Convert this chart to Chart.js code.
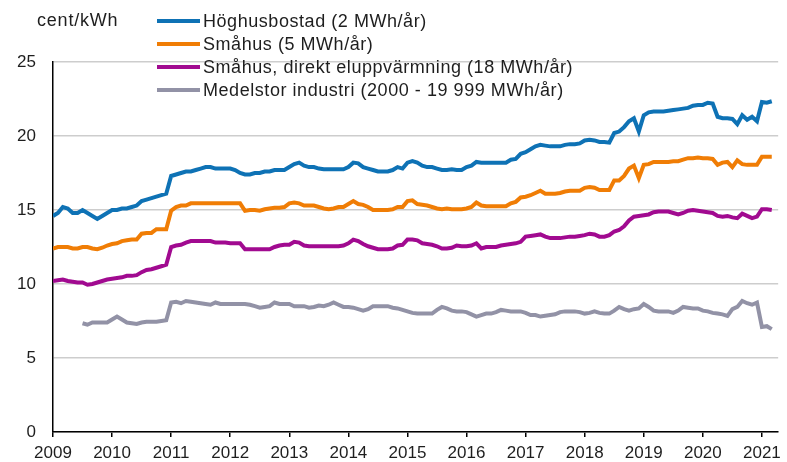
<!DOCTYPE html>
<html>
<head>
<meta charset="utf-8">
<script src="https://cdn.jsdelivr.net/npm/chart.js@4"></script>
<style>
  html, body { margin: 0; padding: 0; background: #fff; }
  #wrap { width: 787px; height: 462px; }
</style>
</head>
<body>
<div id="wrap"><canvas id="chart" width="787" height="462"></canvas></div>
<script>
// monthly prices, cent/kWh, Jan 2009 - Mar 2021
const firstYear = 2009;
const yearTicks = [2009, 2010, 2011, 2012, 2013, 2014, 2015, 2016, 2017, 2018, 2019, 2020, 2021];
const yTicks = [0, 5, 10, 15, 20, 25];

const seriesNames = [
  "Höghusbostad (2 MWh/år)",
  "Småhus (5 MWh/år)",
  "Småhus, direkt eluppvärmning (18 MWh/år)",
  "Medelstor industri (2000 - 19 999 MWh/år)"
];
const seriesColors = ["#0e72b5", "#f07d05", "#a10a90", "#9292a6"];

const hoghus = [
  14.6, 14.8, 15.2, 15.1, 14.8, 14.8, 15.0, 14.8, 14.6, 14.4, 14.6, 14.8,
  15.0, 15.0, 15.1, 15.1, 15.2, 15.3, 15.6, 15.7, 15.8, 15.9, 16.0, 16.1,
  17.3, 17.4, 17.5, 17.6, 17.6, 17.7, 17.8, 17.9, 17.9, 17.8, 17.8, 17.8,
  17.8, 17.7, 17.5, 17.4, 17.4, 17.5, 17.5, 17.6, 17.6, 17.7, 17.7, 17.7,
  17.9, 18.1, 18.2, 18.0, 17.9, 17.9, 17.8, 17.75, 17.75, 17.75, 17.75, 17.75,
  17.9, 18.2, 18.15, 17.9, 17.8, 17.7, 17.6, 17.6, 17.6, 17.7, 17.9, 17.8,
  18.2, 18.3, 18.2, 18.0, 17.9, 17.9, 17.8, 17.7, 17.7, 17.75, 17.7, 17.7,
  17.9, 18.0, 18.25, 18.2, 18.2, 18.2, 18.2, 18.2, 18.2, 18.4, 18.45, 18.8,
  18.9, 19.1, 19.3, 19.4, 19.35, 19.3, 19.3, 19.3, 19.4, 19.45, 19.45, 19.5,
  19.7, 19.75, 19.7, 19.6, 19.6, 19.55, 20.2, 20.3, 20.6, 21.0, 21.2, 20.3,
  21.4, 21.6, 21.65, 21.65, 21.65, 21.7, 21.75, 21.8, 21.85, 21.9, 22.05, 22.1,
  22.1, 22.25, 22.2, 21.3, 21.2, 21.2, 21.15, 20.8, 21.4, 21.1, 21.3, 21.0,
  22.3, 22.25, 22.35
];

const smahus = [
  12.4, 12.5, 12.5, 12.5, 12.4, 12.4, 12.5, 12.5, 12.4, 12.35, 12.45, 12.6,
  12.7, 12.75, 12.9, 12.95, 13.0, 13.0, 13.4, 13.45, 13.45, 13.7, 13.7, 13.7,
  14.95, 15.2, 15.3, 15.3, 15.45, 15.45, 15.45, 15.45, 15.45, 15.45, 15.45, 15.45,
  15.45, 15.45, 15.45, 14.95, 15.0, 15.0, 14.95, 15.05, 15.1, 15.15, 15.15, 15.2,
  15.45, 15.5, 15.45, 15.3, 15.3, 15.3, 15.2, 15.1, 15.05, 15.1, 15.2, 15.2,
  15.4, 15.6, 15.4, 15.35, 15.2, 15.0, 15.0, 15.0, 15.0, 15.05, 15.2, 15.2,
  15.6, 15.65, 15.4, 15.35, 15.3, 15.2, 15.1, 15.05, 15.1, 15.05, 15.05, 15.05,
  15.1, 15.2, 15.5, 15.3, 15.25, 15.25, 15.25, 15.25, 15.25, 15.45, 15.55, 15.85,
  15.9, 16.0, 16.15, 16.3, 16.1, 16.1, 16.1, 16.15, 16.25, 16.3, 16.3, 16.3,
  16.5, 16.55, 16.5, 16.35, 16.35, 16.35, 17.0, 17.0, 17.3, 17.8, 18.0, 17.15,
  18.05, 18.1, 18.25, 18.25, 18.25, 18.25, 18.3, 18.3, 18.4, 18.5, 18.5, 18.55,
  18.5, 18.5, 18.45, 18.05, 18.2, 18.25, 17.9, 18.35, 18.1, 18.05, 18.05, 18.05,
  18.6, 18.6, 18.6
];

const direktEl = [
  10.2, 10.25, 10.3, 10.2, 10.15, 10.1, 10.1, 9.95, 10.0, 10.1, 10.2, 10.3,
  10.35, 10.4, 10.45, 10.55, 10.55, 10.6, 10.8, 10.95, 11.0, 11.1, 11.2, 11.3,
  12.5, 12.6, 12.65, 12.8, 12.9, 12.9, 12.9, 12.9, 12.9, 12.8, 12.8, 12.8,
  12.75, 12.75, 12.75, 12.35, 12.35, 12.35, 12.35, 12.35, 12.35, 12.5, 12.6, 12.65,
  12.65, 12.85, 12.8, 12.6, 12.55, 12.55, 12.55, 12.55, 12.55, 12.55, 12.55, 12.6,
  12.75, 13.0, 12.9, 12.7, 12.55, 12.45, 12.35, 12.35, 12.35, 12.4, 12.6, 12.65,
  13.0, 13.0, 12.95, 12.75, 12.7, 12.65, 12.55, 12.4, 12.4, 12.45, 12.6, 12.55,
  12.55, 12.6, 12.75, 12.4, 12.5, 12.5, 12.5, 12.6, 12.65, 12.7, 12.75, 12.85,
  13.2, 13.25, 13.3, 13.35, 13.2, 13.1, 13.1, 13.1, 13.15, 13.2, 13.2, 13.25,
  13.3, 13.4, 13.35, 13.2, 13.2, 13.3, 13.55, 13.65, 13.9, 14.3, 14.55, 14.6,
  14.65, 14.7, 14.85, 14.9, 14.9, 14.9, 14.8, 14.7, 14.8, 14.95, 15.0, 14.95,
  14.9, 14.85, 14.8, 14.6, 14.55, 14.6, 14.5, 14.45, 14.75, 14.6, 14.45, 14.55,
  15.05, 15.05, 15.0
];

const industri = [
  null, null, null, null, null, null, 7.35, 7.25, 7.4, 7.4, 7.4, 7.4,
  7.6, 7.8, 7.6, 7.4, 7.35, 7.3, 7.4, 7.45, 7.45, 7.45, 7.5, 7.55,
  8.75, 8.8, 8.7, 8.85, 8.8, 8.75, 8.7, 8.65, 8.6, 8.75, 8.65, 8.65,
  8.65, 8.65, 8.65, 8.65, 8.6, 8.5, 8.4, 8.45, 8.5, 8.75, 8.65, 8.65,
  8.65, 8.5, 8.5, 8.5, 8.4, 8.45, 8.55, 8.5, 8.6, 8.75, 8.6, 8.45,
  8.45, 8.4, 8.3, 8.2, 8.3, 8.5, 8.5, 8.5, 8.5, 8.4, 8.35, 8.25,
  8.15, 8.05, 8.0, 8.0, 8.0, 8.0, 8.25, 8.45, 8.35, 8.2, 8.15, 8.15,
  8.1, 7.95, 7.8, 7.9, 8.0, 8.0, 8.1, 8.25, 8.2, 8.15, 8.15, 8.15,
  8.05, 7.9, 7.9, 7.8, 7.85, 7.9, 7.95, 8.1, 8.15, 8.15, 8.15, 8.1,
  8.0, 8.05, 8.15, 8.05, 8.0, 8.0, 8.2, 8.45, 8.3, 8.2, 8.3, 8.35,
  8.65, 8.45, 8.2, 8.15, 8.15, 8.15, 8.05, 8.2, 8.45, 8.4, 8.35, 8.35,
  8.2, 8.15, 8.05, 8.0, 7.95, 7.85, 8.3, 8.45, 8.85, 8.7, 8.6, 8.75,
  7.1, 7.15, 6.95
];

const FONT = "'Liberation Sans', Arial, sans-serif";
const TEXT = "#1e1e1e";

// month index along x, 0 = Jan 2009
const monthIdx = hoghus.map((_, i) => i);

// legend in one column plus the unit label, drawn top left
const topLegend = {
  id: "topLegend",
  afterDraw(chart) {
    const ctx = chart.ctx;
    ctx.save();
    ctx.fillStyle = TEXT;
    ctx.font = "18px " + FONT;
    ctx.textBaseline = "middle";
    ctx.letterSpacing = "0.8px";
    ctx.fillText("cent/kWh", 37, 21);

    ctx.letterSpacing = "0.55px";
    chart.data.datasets.forEach((ds, i) => {
      const y = 21 + i * 23;
      ctx.strokeStyle = ds.borderColor;
      ctx.lineWidth = 4;
      ctx.beginPath();
      ctx.moveTo(157, y);
      ctx.lineTo(200, y);
      ctx.stroke();
      ctx.fillText(ds.label, 203, y + 1);
    });
    ctx.restore();
  }
};

const series = [hoghus, smahus, direktEl, industri];

new Chart(document.getElementById("chart"), {
  type: "line",
  data: {
    labels: monthIdx,
    datasets: series.map((vals, i) => ({
      label: seriesNames[i],
      data: vals,
      borderColor: seriesColors[i],
      backgroundColor: seriesColors[i],
      borderWidth: 4,
      pointRadius: 0,
      tension: 0,
      spanGaps: false
    }))
  },
  options: {
    responsive: false,
    animation: false,
    devicePixelRatio: 1,
    layout: { padding: { top: 62, right: 8, left: 0, bottom: 0 } },
    plugins: {
      legend: { display: false },
      tooltip: { enabled: false }
    },
    scales: {
      x: {
        type: "linear",
        min: 0,
        max: 147.3,
        afterFit: s => { s.height = 30; },
        afterBuildTicks: s => {
          s.ticks = yearTicks.map(y => ({ value: (y - firstYear) * 12 }));
        },
        grid: { drawOnChartArea: false, drawTicks: true, tickLength: 5, color: "#000", lineWidth: 1.5 },
        border: { color: "#000", width: 1.5 },
        ticks: {
          autoSkip: false,
          maxRotation: 0,
          padding: 6,
          color: TEXT,
          font: { family: FONT, size: 17 },
          callback: v => String(firstYear + v / 12)
        }
      },
      y: {
        min: 0,
        max: 25,
        afterFit: s => { s.width = 53; },
        afterBuildTicks: s => {
          s.ticks = yTicks.map(v => ({ value: v }));
        },
        grid: { drawTicks: false, color: "#cdcdcd", lineWidth: 1.5 },
        border: { color: "#000", width: 1.5 },
        ticks: {
          padding: 17,
          color: TEXT,
          font: { family: FONT, size: 17 }
        }
      }
    }
  },
  plugins: [topLegend]
});
</script>
</body>
</html>
